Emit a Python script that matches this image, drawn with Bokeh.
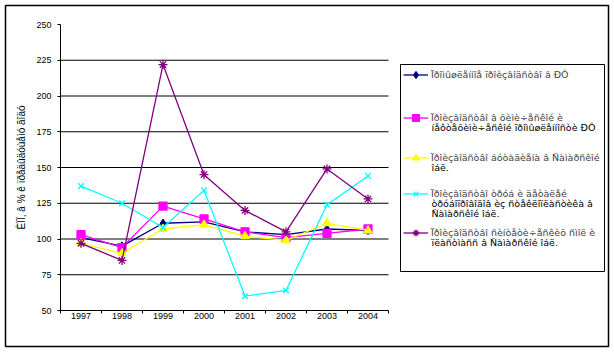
from bokeh.plotting import figure
from bokeh.models import (Legend, LegendItem, FixedTicker, Range1d, LinearAxis,
                          BoxAnnotation, Label)
from bokeh.embed import file_html
from bokeh.resources import INLINE

years = [1997, 1998, 1999, 2000, 2001, 2002, 2003, 2004]
s_industry = [101, 95, 111, 112, 105, 103, 107, 106]
s_chem = [103, 94, 123, 114, 105, 101, 104, 107]
s_butad = [97, 90, 107, 110, 102, 99, 111, 106]
s_pipes = [137, 125, 108, 134, 60, 64, 124, 144]
s_resins = [97, 85, 222, 145, 120, 105, 149, 128]

labels = [
    ["Ïðîìûøëåííîå ïðîèçâîäñòâî â ÐÔ"],
    ["Ïðîèçâîäñòâî â õèìè÷åñêîé è", "íåôòåõèìè÷åñêîé ïðîìûøëåííîñòè ÐÔ"],
    ["Ïðîèçâîäñòâî áóòàäèåíà â Ñàìàðñêîé", "îáë."],
    ["Ïðîèçâîäñòâî òðóá è äåòàëåé", "òðóáîïðîâîäîâ èç ñòåêëîïëàñòèêà â", "Ñàìàðñêîé îáë."],
    ["Ïðîèçâîäñòâî ñèíòåòè÷åñêèõ ñìîë è", "ïëàñòìàññ â Ñàìàðñêîé îáë."],
]
y_label = "ÈÏÏ, â % ê ïðåäûäóùåìó ãîäó"
y_ticks = [50, 75, 100, 125, 150, 175, 200, 225, 250]
grid_ticks = [75, 100, 125, 150, 175, 200, 225]

W, H = 614, 352
# frame = whole bordered chart area; plot area inside it is 60..388 x 24..310
FL, FR, FT, FB = 5, 608, 5, 346
PL, PR, PT, PB = 60, 388, 24, 310
x0, x1 = years[0] - 0.5, years[-1] + 0.5
y0, y1 = y_ticks[0], y_ticks[-1]
pxx = (PR - PL) / (x1 - x0)
pxy = (PB - PT) / (y1 - y0)
xr = Range1d(x0 - (PL - FL) / pxx, x1 + (FR - PR) / pxx)
yr = Range1d(y0 - (FB - PB) / pxy, y1 + (PT - FT) / pxy)

p = figure(width=W, height=H, output_backend="svg", toolbar_location=None,
           x_range=xr, y_range=yr, x_axis_type=None, y_axis_type=None,
           min_border_left=FL, min_border_right=W - FR, min_border_top=FT,
           min_border_bottom=H - FB)
p.outline_line_color = "black"
p.outline_line_width = 1.5
p.background_fill_color = "white"
p.border_fill_color = "white"
p.xgrid.visible = False
p.ygrid.visible = False

FONT = "Liberation Sans"
xaxis = LinearAxis(fixed_location=y0, bounds=(x0, x1))
xaxis.ticker = FixedTicker(ticks=years, minor_ticks=[y - 0.5 for y in years] + [x1])
xaxis.major_tick_line_color = None
xaxis.major_tick_out = 0
xaxis.major_tick_in = 0
xaxis.minor_tick_out = 3
xaxis.minor_tick_in = 0
xaxis.minor_tick_line_color = "black"
xaxis.major_label_standoff = -1
xaxis.axis_line_color = "black"

yaxis = LinearAxis(fixed_location=x0, bounds=(y0, y1))
yaxis.ticker = FixedTicker(ticks=y_ticks)
yaxis.minor_tick_line_color = None
yaxis.major_tick_out = 3
yaxis.major_tick_in = 0
yaxis.major_tick_line_color = "black"
yaxis.major_label_standoff = 6
yaxis.axis_label = y_label
yaxis.axis_label_standoff = 6
yaxis.axis_label_text_font_style = "normal"

for ax in (xaxis, yaxis):
    ax.major_label_text_font = FONT
    ax.major_label_text_font_size = "9px"
    ax.major_label_text_color = "black"
    ax.axis_label_text_font = FONT
    ax.axis_label_text_font_size = "10px"
    ax.axis_label_text_color = "black"

p.add_layout(xaxis, "below")
p.add_layout(yaxis, "left")

# horizontal gridlines limited to the plot area
p.segment(x0=[x0] * len(grid_ticks), x1=[x1] * len(grid_ticks),
          y0=grid_ticks, y1=grid_ticks, line_color="black", line_width=1)

series = [
    (s_industry, "#000080", "diamond", 8),
    (s_chem, "#FF00FF", "square", 8),
    (s_butad, "#FFFF00", "triangle", 8),
    (s_pipes, "#00FFFF", "x", 8),
    (s_resins, "#800080", "asterisk", 9),
]

# legend box (screen units are relative to the frame's bottom-left corner)
LB_L, LB_R, LB_T, LB_B = 400, 604, 64, 271
p.add_layout(BoxAnnotation(left=LB_L - FL, right=LB_R - FL,
                           bottom=FB - LB_B, top=FB - LB_T,
                           left_units="screen", right_units="screen",
                           top_units="screen", bottom_units="screen",
                           fill_color="white", fill_alpha=1.0,
                           line_color="black", line_alpha=1.0, line_width=1))

LFONT, LSIZE, LINE, GH = "DejaVu Sans", "9.5px", 9, 17
entry_y = [74, 117, 157, 193, 232]
for lab, (vals, col, mk, sz), cy in zip(labels, series, entry_y):
    ln = p.line(years, vals, line_color=col, line_width=1.3)
    sc = p.scatter(years, vals, marker=mk, size=sz, fill_color=col,
                   line_color=col, line_width=1.3)
    lg = Legend(items=[LegendItem(label=lab[0], renderers=[ln, sc])],
                location=(403 - FL, FB - (cy + GH / 2)),
                padding=0, margin=0, spacing=0,
                glyph_width=25, glyph_height=GH, label_height=GH,
                label_standoff=3, border_line_color=None,
                background_fill_alpha=0,
                label_text_font=LFONT, label_text_font_size=LSIZE,
                label_text_line_height=1.0)
    p.add_layout(lg, "center")
    if len(lab) > 1:
        p.add_layout(Label(x=431 - FL, y=FB - (cy + LINE / 2),
                           x_units="screen", y_units="screen",
                           text="\n".join(lab[1:]), text_baseline="top",
                           text_font=LFONT, text_font_size=LSIZE,
                           text_line_height=0.95, text_color="black"))

open("out.html", "w").write(file_html(p, INLINE))
